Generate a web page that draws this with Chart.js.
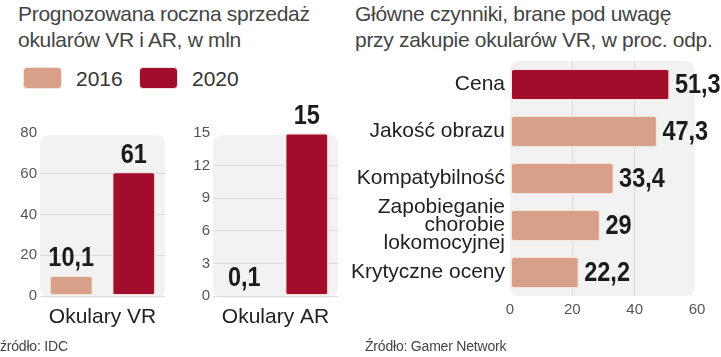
<!DOCTYPE html>
<html>
<head>
<meta charset="utf-8">
<script src="https://cdn.jsdelivr.net/npm/chart.js@4.4.1/dist/chart.umd.min.js"></script>
<style>
  html, body { margin:0; padding:0; background:#fff; }
  body { width:721px; height:357px; position:relative; overflow:hidden; font-family:"Liberation Sans", Arial, sans-serif; }
  .t { position:absolute; color:#444; font-size:21px; line-height:26px; letter-spacing:-0.3px; white-space:nowrap; }
  .box { position:absolute; }
  .sw { position:absolute; width:37px; height:20px; border-radius:4px; border:1.5px solid #f1e3de; }
  .lg { position:absolute; font-size:21px; color:#333; line-height:22px; }
  .src { position:absolute; font-size:14px; color:#444; letter-spacing:-0.2px; white-space:nowrap; }
</style>
</head>
<body>
<div class="t" style="left:18px; top:1px;">Prognozowana roczna sprzedaż<br>okularów VR i AR, w mln</div>
<div class="t" style="left:355px; top:1px;">Główne czynniki, brane pod uwagę<br>przy zakupie okularów VR, w proc. odp.</div>

<div class="sw" id="sw1" style="left:23px; top:67px;"></div>
<div class="lg" id="lg1" style="left:76px; top:68px;"></div>
<div class="sw" id="sw2" style="left:139px; top:67px;"></div>
<div class="lg" id="lg2" style="left:192px; top:68px;"></div>

<div class="box" style="left:0px; top:100px; width:170px; height:240px;"><canvas id="c1"></canvas></div>
<div class="box" style="left:172px; top:100px; width:170px; height:240px;"><canvas id="c2"></canvas></div>
<div class="box" style="left:340px; top:47px; width:381px; height:279px;"><canvas id="c3"></canvas></div>

<div class="src" style="left:0px; top:338px;">źródło: IDC</div>
<div class="src" style="left:365px; top:338px;">Źródło: Gamer Network</div>

<script>
// ---- data ----
const seriesYears = ['2016', '2020'];
const vrCategories = ['Okulary VR'];
const vr2016 = [10.1];
const vr2020 = [61];
const vrTicks = [0, 20, 40, 60, 80];
const arCategories = ['Okulary AR'];
const ar2016 = [0.1];
const ar2020 = [15];
const arTicks = [0, 3, 6, 9, 12, 15];
const factorLabels = ['Cena', 'Jakość obrazu', 'Kompatybilność', ['Zapobieganie', 'chorobie', 'lokomocyjnej'], 'Krytyczne oceny'];
const factorValues = [51.3, 47.3, 33.4, 29, 22.2];
const factorTicks = [0, 20, 40, 60];

// ---- styles ----
const C2016 = '#d9a089';
const C2020 = '#a30d2c';
const BORDER = '#f4e6e1';
const GRID = '#dcdcdc';
const BG = '#f2f2f2';
const FONT = '"Liberation Sans", Arial, sans-serif';

document.getElementById('sw1').style.background = C2016;
document.getElementById('sw2').style.background = C2020;
document.getElementById('lg1').textContent = seriesYears[0];
document.getElementById('lg2').textContent = seriesYears[1];

function fmt(v) { return String(v).replace('.', ','); }

function roundRect(ctx, x, y, w, h, r) {
  ctx.beginPath();
  ctx.moveTo(x + r, y);
  ctx.lineTo(x + w - r, y);
  ctx.quadraticCurveTo(x + w, y, x + w, y + r);
  ctx.lineTo(x + w, y + h - r);
  ctx.quadraticCurveTo(x + w, y + h, x + w - r, y + h);
  ctx.lineTo(x + r, y + h);
  ctx.quadraticCurveTo(x, y + h, x, y + h - r);
  ctx.lineTo(x, y + r);
  ctx.quadraticCurveTo(x, y, x + r, y);
  ctx.closePath();
}

const bgPlugin = {
  id: 'bgRect',
  beforeDraw(chart, args, opts) {
    const a = chart.chartArea, ctx = chart.ctx;
    ctx.save();
    ctx.fillStyle = BG;
    roundRect(ctx, a.left + (opts.dl || 0), a.top + (opts.dt || 0),
      a.right - a.left + (opts.dr || 0) - (opts.dl || 0),
      a.bottom - a.top + (opts.db || 0) - (opts.dt || 0), 10);
    ctx.fill();
    ctx.restore();
  }
};

const valuePlugin = {
  id: 'values',
  afterDatasetsDraw(chart, args, opts) {
    const ctx = chart.ctx;
    const horiz = chart.options.indexAxis === 'y';
    ctx.save();
    ctx.fillStyle = '#1b1b1b';
    ctx.font = 'bold 28px ' + FONT;
    chart.data.datasets.forEach((ds, di) => {
      const meta = chart.getDatasetMeta(di);
      meta.data.forEach((el, i) => {
        const txt = fmt(ds.data[i]);
        ctx.save();
        if (horiz) {
          ctx.textAlign = 'left';
          ctx.textBaseline = 'middle';
          ctx.translate(el.x + 5, el.y + 1);
        } else {
          ctx.textAlign = 'center';
          ctx.textBaseline = 'alphabetic';
          ctx.translate(el.x, el.y - 9);
        }
        ctx.scale(0.84, 1);
        ctx.fillText(txt, 0, 0);
        ctx.restore();
      });
    });
    ctx.restore();
  }
};

function colChart(id, cats, d16, d20, ticks, yW, padR) {
  const max = ticks[ticks.length - 1];
  return new Chart(document.getElementById(id), {
    type: 'bar',
    data: {
      labels: cats,
      datasets: [
        { label: seriesYears[0], data: d16, backgroundColor: C2016 },
        { label: seriesYears[1], data: d20, backgroundColor: C2020 }
      ]
    },
    options: {
      responsive: true, maintainAspectRatio: false, animation: false,
      events: [],
      layout: { padding: { top: 33, right: padR, left: 0, bottom: 0 } },
      datasets: { bar: { categoryPercentage: 1.0, barPercentage: 0.7, borderColor: BORDER, borderWidth: 1.5, borderRadius: 3, borderSkipped: false } },
      plugins: { legend: { display: false }, tooltip: { enabled: false }, bgRect: { dt: 2, db: 2 } },
      scales: {
        x: {
          grid: { display: false, drawTicks: false }, border: { display: false },
          ticks: { color: '#222', font: { family: FONT, size: 21 }, padding: 9 },
          afterFit(s) { s.height = 44; }
        },
        y: {
          min: 0, max: max,
          afterBuildTicks(s) { s.ticks = ticks.map(v => ({ value: v })); },
          grid: { color: c => (c.tick && c.tick.value === max) ? 'rgba(0,0,0,0)' : GRID, drawTicks: false, lineWidth: 1 },
          border: { display: false },
          ticks: { color: '#555', font: { family: FONT, size: 15 }, padding: 3 },
          afterFit(s) { s.width = yW; }
        }
      }
    },
    plugins: [bgPlugin, valuePlugin]
  });
}

colChart('c1', vrCategories, vr2016, vr2020, vrTicks, 40, 5);
colChart('c2', arCategories, ar2016, ar2020, arTicks, 41, 4);

new Chart(document.getElementById('c3'), {
  type: 'bar',
  data: {
    labels: factorLabels,
    datasets: [{
      label: 'proc. odp.',
      data: factorValues,
      backgroundColor: factorValues.map((v, i) => i === 0 ? C2020 : C2016)
    }]
  },
  options: {
    indexAxis: 'y',
    responsive: true, maintainAspectRatio: false, animation: false,
    events: [],
    layout: { padding: { top: 7, right: 24, left: 0, bottom: 0 } },
    datasets: { bar: { categoryPercentage: 1.0, barPercentage: 0.68, borderColor: BORDER, borderWidth: 1.5, borderRadius: 3, borderSkipped: false } },
    plugins: { legend: { display: false }, tooltip: { enabled: false }, bgRect: { dr: -2, db: 0 } },
    scales: {
      x: {
        min: 0, max: 60,
        afterBuildTicks(s) { s.ticks = factorTicks.map(v => ({ value: v })); },
        grid: { color: c => (c.tick && (c.tick.value === 0 || c.tick.value === 60)) ? 'rgba(0,0,0,0)' : GRID, drawTicks: false },
        border: { display: false },
        ticks: { color: '#555', font: { family: FONT, size: 15 }, padding: 5 },
        afterFit(s) { s.height = 30; }
      },
      y: {
        grid: { display: false, drawTicks: false }, border: { display: false },
        ticks: { color: '#222', font: { family: FONT, size: 21, lineHeight: 0.85 }, padding: 5, autoSkip: false },
        afterFit(s) { s.width = 170; }
      }
    }
  },
  plugins: [bgPlugin, valuePlugin]
});
</script>
</body>
</html>
